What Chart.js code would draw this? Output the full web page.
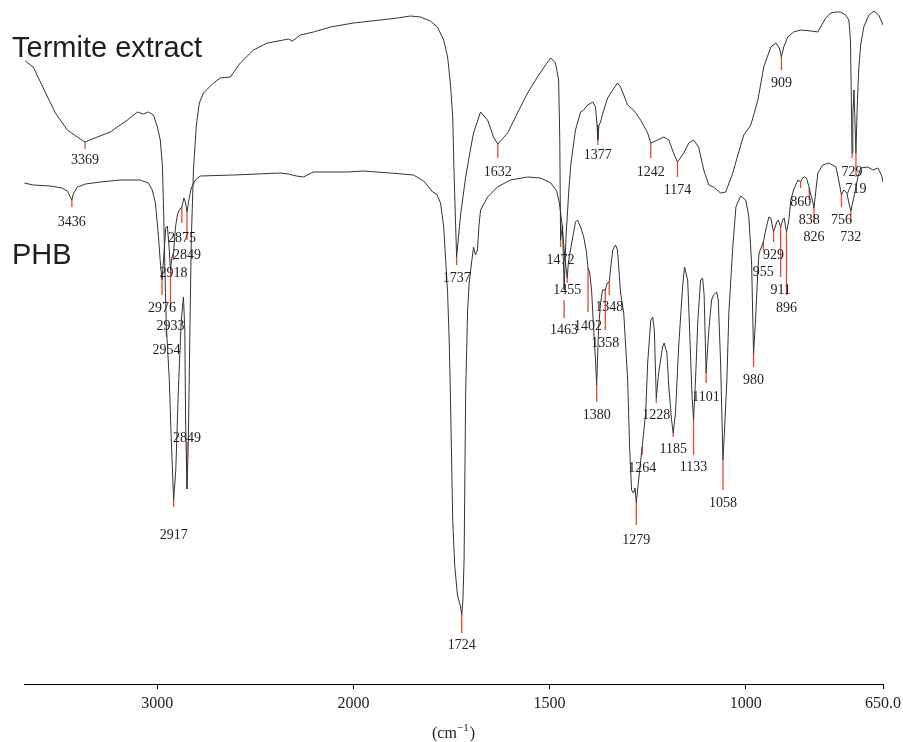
<!DOCTYPE html>
<html>
<head>
<meta charset="utf-8">
<script src="https://cdn.jsdelivr.net/npm/chart.js@4.4.0/dist/chart.umd.min.js"></script>
<style>html,body{margin:0;padding:0;background:#fff}canvas{display:block}</style>
</head>
<body>
<canvas id="c" width="903" height="742"></canvas>
<script>
// ---------- data (wavenumber in cm-1, transmittance in arbitrary units) ----------
const seriesNames = ['Termite extract', 'PHB'];

const termiteWn = [3673,3633,3582,3520,3459,3408,3369,3306,3240,3153,3102,3071,3046,3020,3000,2985,2974,2967,2959,2954,2939,2929,2921,2917,2906,2893,2878,2867,2860,2856,2849,2842,2834,2827,2816,2801,2786,2765,2714,2679,2628,2577,2510,2439,2357,2332,2311,2270,2204,2117,2000,1931,1888,1855,1829,1804,1786,1770,1760,1753,1747,1744,1740,1737,1727,1714,1702,1694,1676,1658,1643,1632,1607,1582,1556,1531,1505,1497,1485,1477,1474,1472,1467,1463,1458,1454,1451,1446,1441,1434,1421,1413,1403,1390,1383,1379,1377,1374,1370,1365,1352,1339,1327,1319,1301,1286,1268,1250,1242,1224,1209,1196,1184,1174,1158,1145,1133,1120,1107,1094,1082,1064,1051,1033,1020,1005,987,969,954,936,923,914,909,903,893,878,860,834,816,809,796,783,770,758,745,737,733,731,729,727,724,722,719,716,712,707,699,686,673,661,650];
const termiteT = [623,617,596,571,554,547,542,547,552,564,572,570,572,569,557,544,517,464,394,357,304,244,204,184,214,294,364,387,354,264,195,244,354,444,514,559,581,591,601,606,607,621,634,641,644,645,643,649,652,657,661,664,666,668,667,663,657,644,627,601,567,517,464,427,469,507,534,551,572,564,547,540,551,571,591,607,622,626,621,604,544,444,459,394,449,474,494,519,534,554,572,574,579,582,577,559,544,559,562,570,586,594,601,597,579,574,564,551,541,544,547,544,531,522,531,541,544,537,514,499,497,491,492,511,529,549,559,584,617,637,641,636,627,637,647,652,654,653,652,657,666,671,672,672,669,664,644,594,531,569,594,569,531,574,614,639,657,669,673,669,659];

const phbWn = [3678,3633,3546,3485,3459,3444,3436,3429,3408,3367,3291,3189,3087,3046,3026,3010,2995,2985,2976,2967,2957,2949,2941,2933,2926,2918,2908,2898,2888,2875,2865,2857,2849,2839,2827,2806,2781,2612,2372,2332,2291,2255,2204,2031,1974,1906,1847,1821,1798,1788,1778,1770,1760,1756,1753,1747,1742,1735,1727,1724,1721,1718,1714,1709,1705,1699,1694,1689,1684,1680,1676,1658,1633,1600,1556,1523,1497,1482,1475,1469,1464,1459,1455,1452,1441,1434,1429,1421,1413,1406,1402,1398,1393,1388,1383,1380,1375,1370,1365,1358,1353,1348,1344,1339,1332,1327,1319,1311,1301,1296,1291,1286,1282,1279,1273,1264,1255,1250,1242,1237,1233,1228,1222,1212,1208,1201,1196,1189,1185,1179,1171,1161,1156,1148,1143,1137,1133,1128,1122,1115,1110,1106,1101,1094,1087,1082,1074,1070,1064,1058,1054,1048,1043,1033,1025,1013,1000,992,985,980,975,969,966,955,949,941,936,929,921,917,911,906,902,896,890,885,878,867,860,855,850,845,838,834,830,826,821,816,804,788,770,763,756,750,742,737,732,724,714,707,689,676,663,653,650];
const phbT = [501,499,498,496,493,487,484,490,497,500,502,504,504,501,494,481,449,422,404,429,456,458,439,414,426,431,456,469,474,477,486,482,472,484,496,504,508,509,511,510,508,507,512,512,513,511,509,503,492,490,481,457,391,344,291,164,119,89,77,69,84,124,291,374,401,421,437,429,434,459,474,487,497,504,507,506,501,493,481,462,439,419,406,422,447,462,464,457,447,432,416,412,394,357,324,299,357,381,394,394,401,402,417,434,439,434,391,371,304,237,194,191,196,181,204,237,271,321,364,367,354,286,311,337,341,331,297,264,251,271,337,397,417,404,354,289,264,304,364,404,406,389,311,354,384,389,392,384,321,224,254,304,371,437,477,488,484,467,421,330,364,414,431,442,454,467,466,452,462,464,457,464,466,452,464,484,494,504,502,506,507,506,496,489,484,476,494,511,519,521,517,504,489,494,491,481,473,487,507,516,517,514,516,508,502];

// x axis
const tickWn = [3000, 2000, 1500, 1000, 650];
const tickLabels = ['3000', '2000', '1500', '1000', '650.0'];
const axisTitleParts = ['(cm', '\u22121', ')'];   // "(cm^-1)"
const axisMinWn = 650, axisMaxWn = 3680;

// labelled peaks: wavenumber, value at tip of marker, value at end of marker, value of label centre
const peakWn      = [3369,2954,2933,2917,2849,1737,1632,1472,1463,1377,1242,1174,909,729,719, 3436,2976,2918,2875,2849,1724,1455,1402,1380,1358,1348,1279,1264,1228,1185,1133,1101,1058,980,955,929,911,896,860,838,826,756,732];
const peakTip     = [542,357,414,184,195,427,540,444,384,544,541,522,627,531,531, 484,404,431,477,472,69,406,416,299,394,402,181,237,286,251,264,311,224,330,442,452,457,452,502,496,476,489,473];
const peakTickEnd = [535,347,377,177,242,419,526,437,366,539,526,507,614,526,507, 477,389,424,461,444,51,401,372,282,354,389,159,229,281,247,229,301,194,317,434,442,407,389,496,484,462,477,462];
const peakLabelY  = [524,334,358,149,246,406,512,424,354,529,512,494,601,512,495, 462,376,411,446,429,39,394,358,269,341,377,144,216,269,235,217,287,181,304,412,429,394,376,482,464,447,464,447];

// ---------- axis transform: region above 2000 cm-1 is drawn at half scale ----------
function pos(w) { return w <= 2000 ? w : 2000 + (w - 2000) / 2; }

const SERIF = '"Liberation Serif", "Times New Roman", serif';
const SANS = '"Liberation Sans", Arial, sans-serif';

const peakPlugin = {
  id: 'peaks',
  beforeDatasetsDraw(chart) {
    const {ctx, scales: {x, y}} = chart;
    ctx.save();
    ctx.strokeStyle = '#e8472e';
    ctx.lineWidth = 1.3;
    peakWn.forEach((w, i) => {
      const px = x.getPixelForValue(pos(w));
      ctx.beginPath();
      ctx.moveTo(px, y.getPixelForValue(peakTip[i]));
      ctx.lineTo(px, y.getPixelForValue(peakTickEnd[i]));
      ctx.stroke();
    });
    ctx.restore();
  },
  afterDatasetsDraw(chart) {
    const {ctx, scales: {x, y}, chartArea} = chart;
    ctx.save();
    ctx.fillStyle = '#222';
    ctx.font = '14px ' + SERIF;
    ctx.textAlign = 'center';
    ctx.textBaseline = 'middle';
    peakWn.forEach((w, i) => {
      ctx.fillText(String(w), x.getPixelForValue(pos(w)), y.getPixelForValue(peakLabelY[i]));
    });
    // series names
    ctx.font = '29px ' + SANS;
    ctx.textAlign = 'left';
    ctx.textBaseline = 'alphabetic';
    ctx.fillStyle = '#1e1e1e';
    ctx.fillText(seriesNames[0], chartArea.left - 12, chartArea.top + 57);
    ctx.fillText(seriesNames[1], chartArea.left - 12, chartArea.top + 264);
    ctx.restore();
  },
  afterDraw(chart) {
    // axis title with a real superscript
    const {ctx, chartArea} = chart;
    ctx.save();
    ctx.fillStyle = '#222';
    ctx.textAlign = 'left';
    ctx.textBaseline = 'alphabetic';
    const big = '16px ' + SERIF, small = '11px ' + SERIF;
    ctx.font = big; const w1 = ctx.measureText(axisTitleParts[0]).width; const w3 = ctx.measureText(axisTitleParts[2]).width;
    ctx.font = small; const w2 = ctx.measureText(axisTitleParts[1]).width;
    const cx = (chartArea.left + chartArea.right) / 2;
    let xx = cx - (w1 + w2 + w3 + 1) / 2;
    const base = chartArea.bottom + 54;
    ctx.font = big; ctx.fillText(axisTitleParts[0], xx, base); xx += w1;
    ctx.font = small; ctx.fillText(axisTitleParts[1], xx, base - 7); xx += w2 + 1;
    ctx.font = big; ctx.fillText(axisTitleParts[2], xx, base);
    ctx.restore();
  }
};

const toPts = (wn, t) => wn.map((w, i) => ({x: pos(w), y: t[i]}));

new Chart(document.getElementById('c'), {
  type: 'line',
  data: {
    datasets: [
      {label: seriesNames[0], data: toPts(termiteWn, termiteT), borderColor: '#333', borderWidth: 1, pointRadius: 0, tension: 0, fill: false},
      {label: seriesNames[1], data: toPts(phbWn, phbT), borderColor: '#333', borderWidth: 1, pointRadius: 0, tension: 0, fill: false}
    ]
  },
  options: {
    responsive: false,
    animation: false,
    devicePixelRatio: 1,
    layout: {padding: {left: 24, right: 20, top: 0, bottom: 0}},
    plugins: {legend: {display: false}, tooltip: {enabled: false}, title: {display: false}},
    scales: {
      x: {
        type: 'linear',
        reverse: true,
        min: pos(axisMinWn),
        max: pos(axisMaxWn),
        afterBuildTicks: (scale) => { scale.ticks = tickWn.map(w => ({value: pos(w)})); },
        afterFit: (scale) => { scale.height = 58; scale.paddingLeft = 0; scale.paddingRight = 0; },
        ticks: {
          autoSkip: false, maxRotation: 0, padding: 5, color: '#222',
          font: {family: SERIF, size: 16},
          callback: (v, i) => tickLabels[i]
        },
        grid: {drawOnChartArea: false, drawTicks: true, tickLength: 5, color: '#000', lineWidth: 1},
        border: {display: true, color: '#000', width: 1},
        title: {display: false}
      },
      y: {display: false, min: 0, max: 684}
    }
  },
  plugins: [peakPlugin]
});
</script>
</body>
</html>
